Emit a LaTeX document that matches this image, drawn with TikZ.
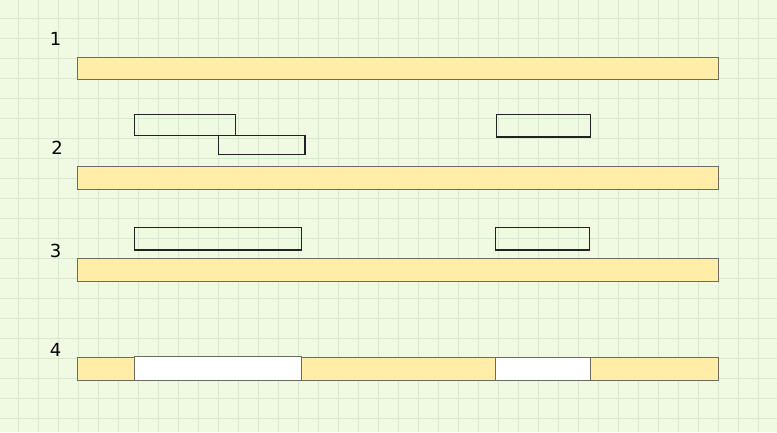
\documentclass[tikz,border=0pt]{standalone}
\usepackage{fontspec}
\setmainfont{DejaVu Sans}
\usepackage{xcolor}
\definecolor{PaperGreen}{HTML}{F0FAE2}
\definecolor{GridGreen}{HTML}{D5EBCF}
\definecolor{BarYellow}{HTML}{FFEDA8}
\definecolor{BarGray}{HTML}{6B6B60}
\definecolor{BoxDark}{HTML}{222222}

\tikzset{
  gridline/.style={GridGreen, line width=1pt},
  bar/.style={fill=BarYellow, draw=BarGray, line width=1pt},
  hole/.style={fill=white, draw=BarGray, line width=1pt},
  piece/.style={draw=BoxDark, line width=1.3pt},
  rowlabel/.style={font=\fontsize{18}{18}\selectfont, text=black, inner sep=0pt}
}

\begin{document}
\begin{tikzpicture}[x=1pt, y=-1pt]
                % Background and grid
                \fill[PaperGreen] (0,0) rectangle (777,432);
                \useasboundingbox (0,0) rectangle (777,432);
                \foreach \x in {18,38,...,778}
                    \draw[gridline] (\x,0) -- (\x,432);
                \foreach \y in {18,38,...,432}
                    \draw[gridline] (0,\y) -- (777,\y);
                
                % Row 1
                \node[rowlabel] (n1) at (55.5,38.5) {1};
                \draw[bar] (77,57) rectangle (718,79);
                
                % Row 2
                \node[rowlabel] (n2) at (57,147.5) {2};
                \draw[piece] (134.5,114.5) rectangle (235.5,135.5);
                \draw[piece] (218.5,135.5) rectangle (305,154.5);
                \draw[piece] (496.5,114.5) rectangle (590.5,137);
                \draw[bar] (77,166) rectangle (718,189);
                
                % Row 3
                \node[rowlabel] (n3) at (55.5,250.5) {3};
                \draw[piece] (134.5,227.5) rectangle (301.5,250);
                \draw[piece] (495.5,227.5) rectangle (589.5,250);
                \draw[bar] (77,258) rectangle (718,281);
                
                % Row 4
                \node[rowlabel] (n4) at (55.5,350) {4};
                \draw[bar] (77,357.5) rectangle (718,380);
                \draw[hole] (134.5,356) rectangle (301.5,380);
                \draw[hole] (495.5,357) rectangle (590.5,380);
            \end{tikzpicture}
\end{document}
